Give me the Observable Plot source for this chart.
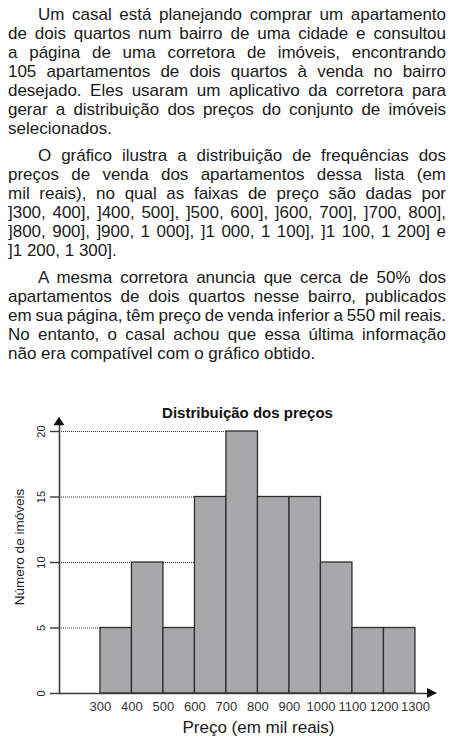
<!DOCTYPE html>
<html>
<head>
<meta charset="utf-8">
<script src="https://cdn.jsdelivr.net/npm/d3@7"></script>
<script src="https://cdn.jsdelivr.net/npm/@observablehq/plot@0.6"></script>
<style>
  html, body { margin: 0; padding: 0; background: #fff; }
  body { width: 475px; height: 742px; position: relative; overflow: hidden; font-family: "Liberation Sans", Arial, sans-serif; }
  #text { position: absolute; left: 8px; top: 5px; width: 438px; font-size: 17px; line-height: 19px; color: #1a1a1a; }
  #text .p { margin: 0 0 8px 0; }
  #text .l { text-align: justify; text-align-last: justify; white-space: nowrap; }
  #text .l.last { text-align: left; text-align-last: left; }
  #text .l.first { text-indent: 30px; }
  #chart { position: absolute; left: 0; top: 390px; }
</style>
</head>
<body>
<div id="text"></div>
<div id="chart"></div>
<script>
// ---- text ----
const paragraphs = [
  ["Um casal está planejando comprar um apartamento",
   "de dois quartos num bairro de uma cidade e consultou",
   "a página de uma corretora de imóveis, encontrando",
   "105 apartamentos de dois quartos à venda no bairro",
   "desejado. Eles usaram um aplicativo da corretora para",
   "gerar a distribuição dos preços do conjunto de imóveis",
   "selecionados."],
  ["O gráfico ilustra a distribuição de frequências dos",
   "preços de venda dos apartamentos dessa lista (em",
   "mil reais), no qual as faixas de preço são dadas por",
   "]300, 400], ]400, 500], ]500, 600], ]600, 700], ]700, 800],",
   "]800, 900], ]900, 1 000], ]1 000, 1 100], ]1 100, 1 200] e",
   "]1 200, 1 300]."],
  ["A mesma corretora anuncia que cerca de 50% dos",
   "apartamentos de dois quartos nesse bairro, publicados",
   "em sua página, têm preço de venda inferior a 550 mil reais.",
   "No entanto, o casal achou que essa última informação",
   "não era compatível com o gráfico obtido."]
];

// ---- chart data ----
const chartTitle = "Distribuição dos preços";
const xLabel = "Preço (em mil reais)";
const yLabel = "Número de imóveis";
const binStart = [300, 400, 500, 600, 700, 800, 900, 1000, 1100, 1200];
const binEnd   = [400, 500, 600, 700, 800, 900, 1000, 1100, 1200, 1300];
const counts   = [5, 10, 5, 15, 20, 15, 15, 10, 5, 5];
const xTicks = [300, 400, 500, 600, 700, 800, 900, 1000, 1100, 1200, 1300];
const xTickLabels = ["300", "400", "500", "600", "700", "800", "900", "1000", "1100", "1200", "1300"];
const yTicks = [0, 5, 10, 15, 20];
const xAxisStart = 170;   // where the y axis crosses the x axis
const xAxisTip = 1370;    // x-axis arrow tip
const yAxisTip = 21.09;   // y-axis arrow tip

// build text; lines that are too long for the column get tightened
const textDiv = document.getElementById("text");
const colWidth = 438;
paragraphs.forEach(lines => {
  const p = document.createElement("div");
  p.className = "p";
  lines.forEach((s, i) => {
    const d = document.createElement("div");
    d.className = "l" + (i === 0 ? " first" : "") + (i === lines.length - 1 ? " last" : "");
    const span = document.createElement("span");
    span.textContent = s;
    d.appendChild(span);
    p.appendChild(d);
  });
  textDiv.appendChild(p);
});
textDiv.querySelectorAll(".l").forEach(d => {
  const span = d.firstChild;
  const indent = d.classList.contains("first") ? 30 : 0;
  const avail = colWidth - indent - 1;
  let w = span.getBoundingClientRect().width;
  if (w > avail) {
    const spaces = (span.textContent.match(/ /g) || []).length;
    const ws = Math.max(-1.8, (avail - w) / Math.max(1, spaces));
    d.style.wordSpacing = ws + "px";
    w = span.getBoundingClientRect().width;
    if (w > avail) {
      d.style.letterSpacing = ((avail - w) / span.textContent.length) + "px";
    }
  }
});

const bins = binStart.map((s, i) => ({x1: s, x2: binEnd[i], count: counts[i]}));
const gridTicks = yTicks.filter(t => t > 0);

function arrowHeads(index, scales) {
  const sx = scales.x, sy = scales.y;
  const ax = sx(xAxisStart), ay = sy(0);
  const ty = sy(yAxisTip), tx = sx(xAxisTip);
  const g = d3.create("svg:g");
  g.append("path")
    .attr("d", `M${ax},${ty}L${ax - 5.5},${ty + 8.5}L${ax + 5.5},${ty + 8.5}Z`)
    .attr("fill", "#111");
  g.append("path")
    .attr("d", `M${tx},${ay}L${tx - 10},${ay - 5}L${tx - 10},${ay + 5}Z`)
    .attr("fill", "#111");
  return g.node();
}

const chart = Plot.plot({
  width: 475,
  height: 352,
  marginLeft: 59,
  marginRight: 38,
  marginTop: 41,
  marginBottom: 49,
  x: {domain: [xAxisStart, xAxisTip], axis: null},
  y: {domain: [0, 20], axis: null},
  style: {fontFamily: "'Liberation Sans', Arial, sans-serif", overflow: "visible", background: "#fff"},
  marks: [
    // dotted gridlines from the axis to the tallest bar's right edge
    Plot.ruleY(gridTicks, {
      y: d => d,
      x1: () => xAxisStart,
      x2: d => d3.max(bins.filter(b => b.count >= d), b => b.x2),
      stroke: "#333", strokeWidth: 1, strokeDasharray: "1,1"
    }),
    Plot.rectY(bins, {x1: "x1", x2: "x2", y: "count", fill: "#a8a8aa", stroke: "#2e2e2e", strokeWidth: 1.3}),
    // axes
    Plot.axisY(yTicks, {tickSize: 9, tickFormat: () => "", stroke: "#3a3a3a", strokeWidth: 1.4, label: null}),
    Plot.ruleX([xAxisStart], {y1: 0, y2: yAxisTip - 0.3, stroke: "#3a3a3a", strokeWidth: 1.6}),
    Plot.ruleY([0], {x1: xAxisStart, x2: xAxisTip - 20, stroke: "#3a3a3a", strokeWidth: 1.6}),
    arrowHeads,
    // y tick labels (rotated)
    Plot.text(yTicks, {y: d => d, frameAnchor: "left", dx: -18, rotate: -90, textAnchor: "middle", lineAnchor: "middle", text: d => String(d), fontSize: 11, fill: "#222"}),
    // x tick labels
    Plot.text(xTicks, {x: d => d, frameAnchor: "bottom", dy: 13.7, textAnchor: "middle", lineAnchor: "middle", text: (d, i) => xTickLabels[i], fontSize: 13, fill: "#333"}),
    // axis labels
    Plot.text([xLabel], {frameAnchor: "bottom", dx: 10, dy: 34.2, textAnchor: "middle", lineAnchor: "middle", text: d => d, fontSize: 17, fill: "#1a1a1a"}),
    Plot.text([yLabel], {frameAnchor: "left", dx: -39.5, dy: -15.5, rotate: -90, textAnchor: "middle", lineAnchor: "middle", text: d => d, fontSize: 13.5, fill: "#1a1a1a"}),
    // title
    Plot.text([chartTitle], {frameAnchor: "top", dx: -1, dy: -18.8, textAnchor: "middle", lineAnchor: "middle", text: d => d, fontSize: 15, fontWeight: "bold", fill: "#111"})
  ]
});
document.getElementById("chart").appendChild(chart);
</script>
</body>
</html>
